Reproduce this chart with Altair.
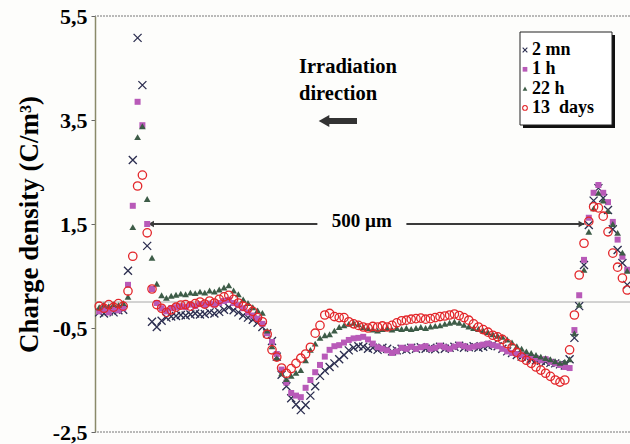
import altair as alt
import pandas as pd

# ---------------- data ----------------
series_names = ["2 mn", "1 h", "22 h", "13 days"]
step_um = 5.5                     # spacing of the measurement points
positions = [round(i * step_um, 1) for i in range(111)]

s_2mn = [
    -0.20, -0.22, -0.18, -0.20, -0.16, -0.15, 0.60, 2.73, 5.08, 4.17,
    1.08, -0.38, -0.48, -0.36, -0.30, -0.28, -0.27, -0.25, -0.26, -0.24,
    -0.22, -0.24, -0.23, -0.20, -0.22, -0.19, -0.15, -0.10, -0.16, -0.20,
    -0.26, -0.30, -0.34, -0.40, -0.48, -0.60, -0.75, -1.05, -1.40, -1.62,
    -1.85, -1.97, -2.08, -1.98, -1.80, -1.62, -1.42, -1.32, -1.25, -1.18,
    -1.10, -1.02, -0.93, -0.88, -0.85, -0.86, -0.90, -0.88, -0.92, -0.88,
    -0.90, -0.95, -0.93, -0.90, -0.92, -0.88, -0.90, -0.87, -0.90, -0.88,
    -0.91, -0.86, -0.90, -0.88, -0.86, -0.84, -0.88, -0.87, -0.85, -0.88,
    -0.86, -0.84, -0.82, -0.85, -0.90, -0.95, -0.98, -1.02, -1.05, -1.08,
    -1.10, -1.12, -1.13, -1.15, -1.17, -1.18, -1.20, -1.22, -1.10, -0.69,
    -0.08, 0.71, 1.48, 1.95, 2.19, 2.00, 1.77, 1.40, 1.00, 0.75, 0.33,
]
s_1h = [
    -0.18, -0.15, -0.20, -0.14, -0.16, -0.12, 0.33, 1.85, 3.85, 3.40,
    1.50, 0.25, -0.02, -0.12, -0.18, -0.12, -0.10, -0.08, -0.10, -0.05,
    -0.08, -0.04, -0.06, -0.03, -0.05, -0.02, 0.02, 0.04, -0.02, -0.06,
    -0.12, -0.20, -0.26, -0.32, -0.42, -0.60, -0.77, -1.00, -1.30, -1.55,
    -1.75, -1.80, -1.83, -1.65, -1.50, -1.35, -1.21, -1.05, -0.92, -0.85,
    -0.83, -0.78, -0.73, -0.70, -0.69, -0.67, -0.72, -0.80, -0.87, -0.90,
    -0.93, -0.98, -0.95, -0.88, -0.90, -0.86, -0.90, -0.87, -0.85, -0.90,
    -0.88, -0.84, -0.87, -0.90, -0.86, -0.82, -0.85, -0.88, -0.86, -0.84,
    -0.82, -0.80, -0.83, -0.85, -0.90, -0.95, -0.98, -1.00, -1.02, -1.04,
    -1.06, -1.08, -1.12, -1.10, -1.15, -1.18, -1.21, -1.25, -1.27, -0.54,
    0.13, 0.81, 1.62, 2.10, 2.25, 2.10, 1.92, 1.54, 1.20, 0.87, 0.62,
]
s_22h = [
    -0.10, -0.05, -0.08, -0.04, -0.06, -0.02, 0.10, 1.44, 3.17, 3.38,
    1.98, 0.85, 0.35, 0.13, 0.08, 0.12, 0.14, 0.16, 0.15, 0.18,
    0.17, 0.20, 0.18, 0.22, 0.20, 0.24, 0.28, 0.32, 0.22, 0.15,
    0.05, -0.02, -0.10, -0.16, -0.21, -0.55, -0.85, -1.08, -1.37, -1.48,
    -1.42, -1.36, -1.31, -1.12, -0.92, -0.80, -0.69, -0.64, -0.62, -0.55,
    -0.48, -0.45, -0.42, -0.40, -0.43, -0.48, -0.50, -0.53, -0.55, -0.52,
    -0.50, -0.53, -0.50, -0.52, -0.50, -0.52, -0.50, -0.48, -0.50, -0.47,
    -0.46, -0.45, -0.42, -0.40, -0.38, -0.40, -0.44, -0.47, -0.50, -0.52,
    -0.55, -0.58, -0.62, -0.65, -0.67, -0.72, -0.78, -0.85, -0.90, -0.95,
    -0.98, -1.02, -1.05, -1.08, -1.10, -1.14, -1.17, -1.15, -1.10, -0.60,
    -0.05, 0.62, 1.35, 1.80, 2.10, 1.95, 1.75, 1.50, 1.33, 0.95, 0.60,
]
s_13d = [
    -0.08, -0.12, -0.05, -0.10, -0.03, -0.08, 0.21, 0.88, 2.23, 2.44,
    1.33, 0.25, -0.05, -0.12, -0.20, -0.15, -0.10, -0.06, -0.05, -0.08,
    -0.03, 0.00, -0.04, 0.02, -0.02, 0.05, 0.10, 0.13, 0.05, -0.02,
    -0.08, -0.12, -0.18, -0.30, -0.38, -0.62, -0.92, -1.06, -1.27, -1.37,
    -1.28, -1.18, -1.08, -1.00, -0.87, -0.60, -0.45, -0.25, -0.22, -0.28,
    -0.30, -0.30, -0.38, -0.42, -0.45, -0.48, -0.50, -0.47, -0.48, -0.46,
    -0.48, -0.45, -0.40, -0.36, -0.35, -0.33, -0.32, -0.31, -0.33, -0.32,
    -0.30, -0.28, -0.27, -0.25, -0.23, -0.26, -0.30, -0.35, -0.42, -0.48,
    -0.53, -0.58, -0.64, -0.67, -0.72, -0.80, -0.88, -0.97, -1.06, -1.12,
    -1.18, -1.25, -1.31, -1.37, -1.43, -1.50, -1.54, -1.50, -0.92, -0.25,
    0.52, 1.13, 1.55, 1.83, 1.81, 1.65, 1.35, 0.94, 0.67, 0.46, 0.23,
]

y_ticks = [-2.5, -0.5, 1.5, 3.5, 5.5]
legend_labels = ["2 mn", "1 h", "22 h", "13\u00a0 days"]
scale_bar_label = "500 µm"
scale_bar_from, scale_bar_to, scale_bar_level = 56, 556, 1.5

all_series = [s_2mn, s_1h, s_22h, s_13d]

# ---------------- styling ----------------
FONT = "Liberation Serif"
X_PATH = "M-1,-1L1,1M-1,1L1,-1"
shapes = [X_PATH, "square", "triangle-up", "circle"]
colors = ["#2b2d4f", "#b85ab8", "#3d5c47", "#e3262a"]
filled = [False, True, True, False]
sizes = [64, 36, 46, 70]

xscale = alt.Scale(domain=[-4.8, 608.2], nice=False, zero=False)
yscale = alt.Scale(domain=[-2.5, 5.5], nice=False, zero=False)

yaxis = alt.Axis(
    values=y_ticks,
    labelExpr="(datum.value < 0 ? '-' : '') + replace(format(abs(datum.value), '.1f'), '.', ',')",
    labelFont=FONT, labelFontWeight="bold", labelFontSize=22, labelColor="black",
    labelPadding=4, tickSize=4, tickColor="#666", domainColor="#8a8a6a", domainWidth=1.5,
    grid=False, title="Charge density (C/m³)", titleFont=FONT, titleFontSize=27,
    titleFontWeight="bold", titleColor="black", titleX=-66, titleY=208, titleAngle=270,
    titleBaseline="middle", titleAlign="center",
)

layers = []

# reference lines (zero line, top and bottom frame)
layers.append(alt.Chart(pd.DataFrame({"level": [0.0]})).mark_rule(
    color="#a8a8a8", strokeWidth=1).encode(y=alt.Y("level:Q", scale=yscale, axis=yaxis)))
layers.append(alt.Chart(pd.DataFrame({"level": [5.5, -2.5]})).mark_rule(
    color="#777777", strokeWidth=1, strokeDash=[2, 1]).encode(y=alt.Y("level:Q", scale=yscale)))

# 500 µm scale bar
bar_df = pd.DataFrame({"start": [scale_bar_from, 352], "end": [250, scale_bar_to],
                       "level": [scale_bar_level, scale_bar_level]})
layers.append(alt.Chart(bar_df).mark_rule(color="#3a3a3a", strokeWidth=1.8).encode(
    x=alt.X("start:Q", scale=xscale, axis=None), x2="end:Q", y=alt.Y("level:Q", scale=yscale)))
layers.append(alt.Chart(pd.DataFrame({"p": [scale_bar_from], "level": [scale_bar_level]})).mark_point(
    shape="triangle-left", filled=True, color="#3a3a3a", size=45, xOffset=3, opacity=1).encode(
    x=alt.X("p:Q", scale=xscale), y=alt.Y("level:Q", scale=yscale)))
layers.append(alt.Chart(pd.DataFrame({"p": [scale_bar_to], "level": [scale_bar_level]})).mark_point(
    shape="triangle-right", filled=True, color="#3a3a3a", size=45, xOffset=-3, opacity=1).encode(
    x=alt.X("p:Q", scale=xscale), y=alt.Y("level:Q", scale=yscale)))
layers.append(alt.Chart(pd.DataFrame({"p": [301], "level": [scale_bar_level], "t": [scale_bar_label]})).mark_text(
    font=FONT, fontWeight="bold", fontSize=19, color="black", baseline="middle", dy=-3).encode(
    x=alt.X("p:Q", scale=xscale), y=alt.Y("level:Q", scale=yscale), text="t:N"))

# irradiation direction note
one = pd.DataFrame({"a": [0]})
layers.append(alt.Chart(one).mark_text(text="Irradiation", font=FONT, fontWeight="bold", fontSize=20.5,
                                       color="black", align="left", baseline="alphabetic").encode(
    x=alt.value(204), y=alt.value(57)))
layers.append(alt.Chart(one).mark_text(text="direction", font=FONT, fontWeight="bold", fontSize=20.5,
                                       color="black", align="left", baseline="alphabetic").encode(
    x=alt.value(204), y=alt.value(84)))
layers.append(alt.Chart(one).mark_rule(color="#333333", strokeWidth=6).encode(
    x=alt.value(234), x2=alt.value(262), y=alt.value(105)))
layers.append(alt.Chart(one).mark_point(shape="triangle-left", filled=True, color="#333333",
                                        size=150, opacity=1).encode(x=alt.value(229), y=alt.value(105)))

# data series
for name, vals, shp, col, fl, sz in zip(series_names, all_series, shapes, colors, filled, sizes):
    d = pd.DataFrame({"position": positions, "density": vals, "series": name})
    layers.append(alt.Chart(d).mark_point(shape=shp, color=col, filled=fl, size=sz,
                                          strokeWidth=1.3, opacity=1).encode(
        x=alt.X("position:Q", scale=xscale),
        y=alt.Y("density:Q", scale=yscale)))

# legend box (drawn by hand: shadow, frame, symbols, labels)
layers.append(alt.Chart(one).mark_rect(color="#111111").encode(
    x=alt.value(428), x2=alt.value(520), y=alt.value(19), y2=alt.value(112)))
layers.append(alt.Chart(one).mark_rect(fill="white", stroke="#222222", strokeWidth=1).encode(
    x=alt.value(425), x2=alt.value(517), y=alt.value(16), y2=alt.value(109)))
for i, (lab, shp, col, fl) in enumerate(zip(legend_labels, shapes, colors, filled)):
    yy = 34 + i * 19.3
    layers.append(alt.Chart(one).mark_point(shape=shp, color=col, filled=fl, size=22,
                                            strokeWidth=1.1, opacity=1).encode(
        x=alt.value(430), y=alt.value(yy)))
    layers.append(alt.Chart(one).mark_text(text=lab, font=FONT, fontWeight="bold", fontSize=18,
                                           color="black", align="left", baseline="middle").encode(
        x=alt.value(437), y=alt.value(yy)))

chart = alt.layer(*layers).properties(
    width=535, height=416,
    autosize=alt.AutoSizeParams(type="none"),
    padding={"left": 95, "top": 16, "right": 0, "bottom": 12},
    background="#fdfdfb",
).configure_view(strokeWidth=0)

chart.save("out.html", embed_options={"renderer": "svg", "actions": False})
